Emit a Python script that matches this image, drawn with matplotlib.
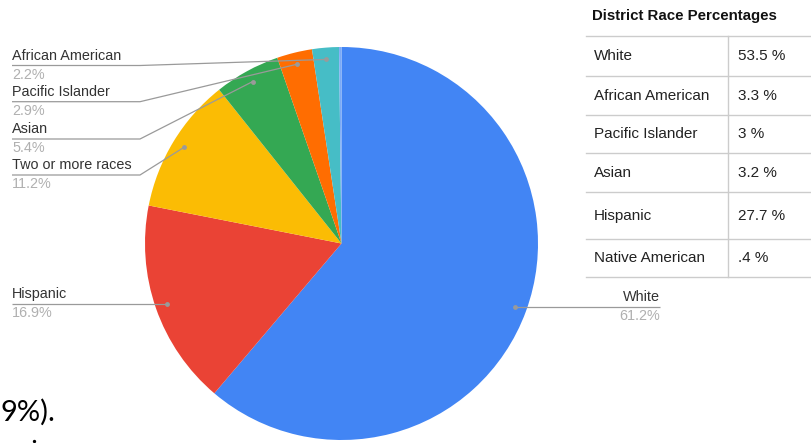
import numpy as np
import matplotlib
matplotlib.use('Agg')
import matplotlib.pyplot as plt

W, H = 811, 443

# ---- data ----
pie_labels = ["White", "Hispanic", "Two or more races", "Asian",
              "Pacific Islander", "African American", ""]
pie_values = [61.2, 16.9, 11.2, 5.4, 2.9, 2.2, 0.2]
pie_colors = ["#4285F4", "#EA4335", "#FBBC04", "#34A853",
              "#FF6D01", "#46BDC6", "#7BAAF7"]

table_title = "District Race Percentages"
table_races = ["White", "African American", "Pacific Islander", "Asian",
               "Hispanic", "Native American"]
table_pcts = ["53.5 %", "3.3 %", "3 %", "3.2 %", "27.7 %", ".4 %"]

stray_text = "9%)."

# ---- figure ----
fig = plt.figure(figsize=(W / 100, H / 100), dpi=100)
ax = fig.add_axes([0, 0, 1, 1])


def Y(y):
    return H - y


cx, cy, R = 341.5, Y(243.5), 196.5
wedges, _ = ax.pie(pie_values, colors=pie_colors, startangle=90,
                   counterclock=False, radius=R, center=(cx, cy),
                   wedgeprops=dict(linewidth=0))
ax.set_xlim(0, W)
ax.set_ylim(0, H)
ax.set_aspect('equal')
ax.axis('off')

# label layout: (side, underline y in px, or None = level with the dot)
layout = {
    "White": ("right", None),
    "Hispanic": ("left", None),
    "Two or more races": ("left", 175),
    "Asian": ("left", 139),
    "Pacific Islander": ("left", 101.7),
    "African American": ("left", 65.5),
}
line_c = "#9a9a9a"
name_c = "#333333"
pct_c = "#b0b0b0"
lfont = dict(family=["Liberation Sans", "DejaVu Sans"], fontsize=10.4)

for w, lab, val in zip(wedges, pie_labels, pie_values):
    if lab not in layout:
        continue
    side, ly = layout[lab]
    th = np.deg2rad((w.theta1 + w.theta2) / 2)
    dx, dy = cx + 0.94 * R * np.cos(th), cy + 0.94 * R * np.sin(th)
    if ly is None:
        ly = H - dy
    if side == "left":
        xs = [12, 140, dx]
        ys = [Y(ly), Y(ly), dy]
        tx, ha = 12, "left"
    else:
        xs = [dx, 660]
        ys = [dy, Y(ly)]
        tx, ha = 660, "right"
    ax.plot(xs, ys, color=line_c, lw=0.9, solid_capstyle='butt')
    ax.plot([dx], [dy], 'o', color=line_c, markersize=3.5, mec='none')
    ax.text(tx, Y(ly - 10), lab, ha=ha, va="center", color=name_c, **lfont)
    ax.text(tx, Y(ly + 9), f"{val}%", ha=ha, va="center", color=pct_c, **lfont)

# ---- table ----
tfont = dict(family=["Liberation Sans", "DejaVu Sans"])
ax.text(592, Y(16), table_title, ha="left", va="center", fontsize=10.8,
        fontweight="bold", color="#111111", **tfont)
row_lines = [35.7, 76, 115, 153.3, 192.3, 239, 276.7]
grid_c = "#cccccc"
for yl in row_lines:
    ax.plot([586, W], [Y(yl), Y(yl)], color=grid_c, lw=1.0)
ax.plot([727.7, 727.7], [Y(row_lines[0]), Y(row_lines[-1])], color=grid_c, lw=1.0)
for i, (race, pct) in enumerate(zip(table_races, table_pcts)):
    yc = (row_lines[i] + row_lines[i + 1]) / 2
    ax.text(593.5, Y(yc), race, ha="left", va="center", fontsize=11,
            color="#222222", **tfont)
    ax.text(738, Y(yc), pct, ha="left", va="center", fontsize=11,
            color="#222222", **tfont)

# ---- stray text fragment at bottom left ----
ax.text(0, Y(412), stray_text, ha="left", va="center", fontsize=21,
        family=["Lato", "DejaVu Sans"], color="#000000")
ax.plot([33.5], [Y(440.5)], 'o', color="#000000", markersize=2.4, mec='none')

fig.savefig("out.png", dpi=100)
